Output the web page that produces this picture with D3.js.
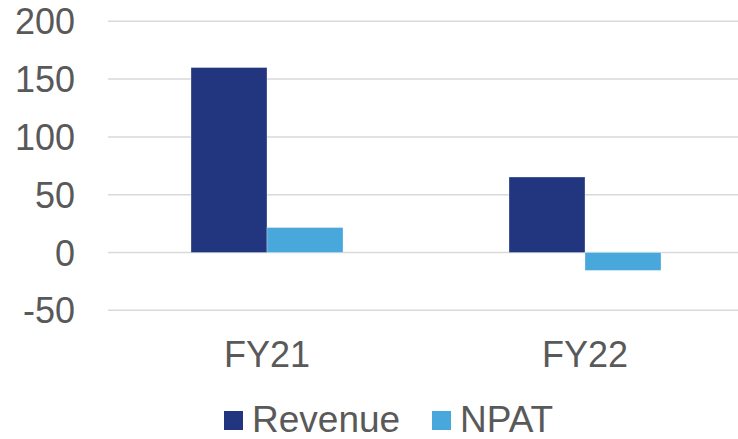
<!DOCTYPE html>
<html>
<head>
<meta charset="utf-8">
<script src="https://cdn.jsdelivr.net/npm/d3@7"></script>
<style>
  body { margin: 0; background: #fff; }
  svg text { font-family: "Liberation Sans", Arial, sans-serif; fill: #595959; }
</style>
</head>
<body>
<svg width="738" height="439"></svg>
<script>
(function () {
  'use strict';
  var categories = ['FY21', 'FY22'];
  var seriesNames = ['Revenue', 'NPAT'];
  var revenue = [160, 65.3];
  var npat = [21.6, -15.5];
  var yTicks = [-50, 0, 50, 100, 150, 200];
  var colors = ['#22367f', '#48a7db'];

  var svg = d3.select('svg');

  var x = d3.scaleBand().domain(categories).range([108, 744]).paddingInner(0).paddingOuter(0);
  var y = d3.scaleLinear().domain([-50, 200]).range([310.3, 21.3]);
  var inner = d3.scaleBand().domain(seriesNames).range([0, 152]);
  var barOffset = (x.bandwidth() - 152) / 2;

  // gridlines
  svg.append('g').selectAll('line').data(yTicks).enter().append('line')
    .attr('x1', 108).attr('x2', 738)
    .attr('y1', function (d) { return y(d); })
    .attr('y2', function (d) { return y(d); })
    .attr('stroke', '#d9d9d9').attr('stroke-width', 1.5);

  // y axis labels
  svg.append('g').selectAll('text').data(yTicks).enter().append('text')
    .attr('x', 75)
    .attr('y', function (d) { return y(d) + 13; })
    .attr('text-anchor', 'end')
    .style('font-size', '36px')
    .text(function (d) { return d; });

  var rows = [];
  categories.forEach(function (c, i) {
    rows.push({cat: c, s: 'Revenue', v: revenue[i]});
    rows.push({cat: c, s: 'NPAT', v: npat[i]});
  });

  svg.append('g').selectAll('rect').data(rows).enter().append('rect')
    .attr('x', function (d) { return x(d.cat) + barOffset + inner(d.s); })
    .attr('width', inner.bandwidth())
    .attr('y', function (d) { return y(Math.max(0, d.v)); })
    .attr('height', function (d) { return Math.abs(y(d.v) - y(0)); })
    .attr('fill', function (d) { return colors[seriesNames.indexOf(d.s)]; })
    .attr('stroke', 'rgba(255,255,255,0.4)').attr('stroke-width', 0.75);

  // category labels
  svg.append('g').selectAll('text').data(categories).enter().append('text')
    .attr('x', function (d) { return x(d) + x.bandwidth() / 2; })
    .attr('y', 367)
    .attr('text-anchor', 'middle')
    .style('font-size', '36px')
    .text(function (d) { return d; });

  // legend
  var legendX = [224, 432];
  var lg = svg.append('g').selectAll('g').data(seriesNames).enter().append('g')
    .attr('transform', function (d, i) { return 'translate(' + legendX[i] + ',411)'; });
  lg.append('rect').attr('width', 19).attr('height', 19)
    .attr('fill', function (d, i) { return colors[i]; });
  lg.append('text').attr('x', 28).attr('y', 20.5)
    .style('font-size', '37px')
    .text(function (d) { return d; });
})();
</script>
</body>
</html>
